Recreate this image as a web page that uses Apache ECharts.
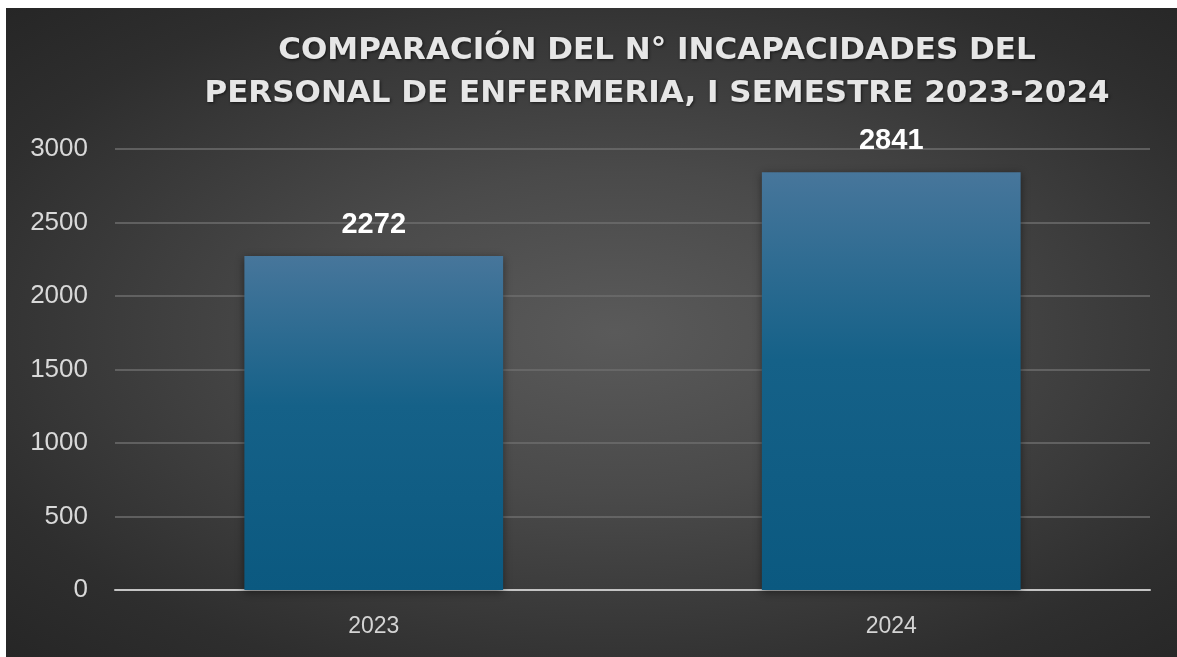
<!DOCTYPE html>
<html>
<head>
<meta charset="utf-8">
<script src="https://cdn.jsdelivr.net/npm/echarts@6/dist/echarts.min.js"></script>
<style>
  html, body { margin: 0; padding: 0; background: #fff; overflow: hidden; }
  #chart {
    position: absolute; left: 6px; top: 8px; width: 1171px; height: 649px;
    background: radial-gradient(ellipse at 52% 50%, #5a5a5a 0%, #4a4a4a 35%, #2e2e2e 80%, #262626 100%);
  }
</style>
</head>
<body>
<div id="chart"></div>
<script>
// datos
const years = ['2023', '2024']
const incapacidades = [2272, 2841]
const titleLines = ['COMPARACIÓN DEL N° INCAPACIDADES DEL', 'PERSONAL DE ENFERMERIA, I SEMESTRE 2023-2024']

let myChart = echarts.init(document.getElementById('chart'))
let option = {
  backgroundColor: 'transparent',
  title: {
    text: titleLines.join('\n'),
    left: 646,
    top: 16,
    textAlign: 'center',
    textStyle: {
      fontFamily: 'DejaVu Sans',
      fontWeight: 'bold',
      fontSize: 31,
      lineHeight: 43,
      color: '#e6e6e6',
      textShadowColor: 'rgba(0,0,0,0.6)',
      textShadowBlur: 3,
      textShadowOffsetX: 1,
      textShadowOffsetY: 1
    }
  },
  grid: {
    left: 109,
    right: 27,
    top: 141,
    bottom: 67
  },
  xAxis: {
    type: 'category',
    data: years,
    axisTick: { show: false },
    axisLine: { lineStyle: { color: '#c4c4c4', width: 2 } },
    axisLabel: {
      color: '#d4d4d4',
      fontFamily: 'Liberation Sans',
      fontSize: 23,
      margin: 25
    }
  },
  yAxis: {
    type: 'value',
    min: 0,
    max: 3000,
    interval: 500,
    axisLine: { show: false },
    axisTick: { show: false },
    splitLine: { lineStyle: { color: '#6e6e6e', width: 1.5 } },
    axisLabel: {
      color: '#d9d9d9',
      fontFamily: 'Liberation Sans',
      fontSize: 26,
      margin: 27,
      formatter: function (value) {
        return String(value)
      }
    }
  },
  series: [
    {
      type: 'bar',
      data: incapacidades,
      barWidth: '50%',
      itemStyle: {
        color: {
          type: 'linear', x: 0, y: 0, x2: 0, y2: 1,
          colorStops: [
            { offset: 0, color: '#47769b' },
            { offset: 0.45, color: '#156188' },
            { offset: 1, color: '#0b5980' }
          ]
        },
        shadowColor: 'rgba(0,0,0,0.45)',
        shadowBlur: 8,
        shadowOffsetY: 2
      },
      label: {
        show: true,
        position: 'top',
        distance: 17,
        color: '#ffffff',
        fontFamily: 'Liberation Sans',
        fontWeight: 'bold',
        fontSize: 29
      }
    }
  ]
}
myChart.setOption(option)
</script>
</body>
</html>
